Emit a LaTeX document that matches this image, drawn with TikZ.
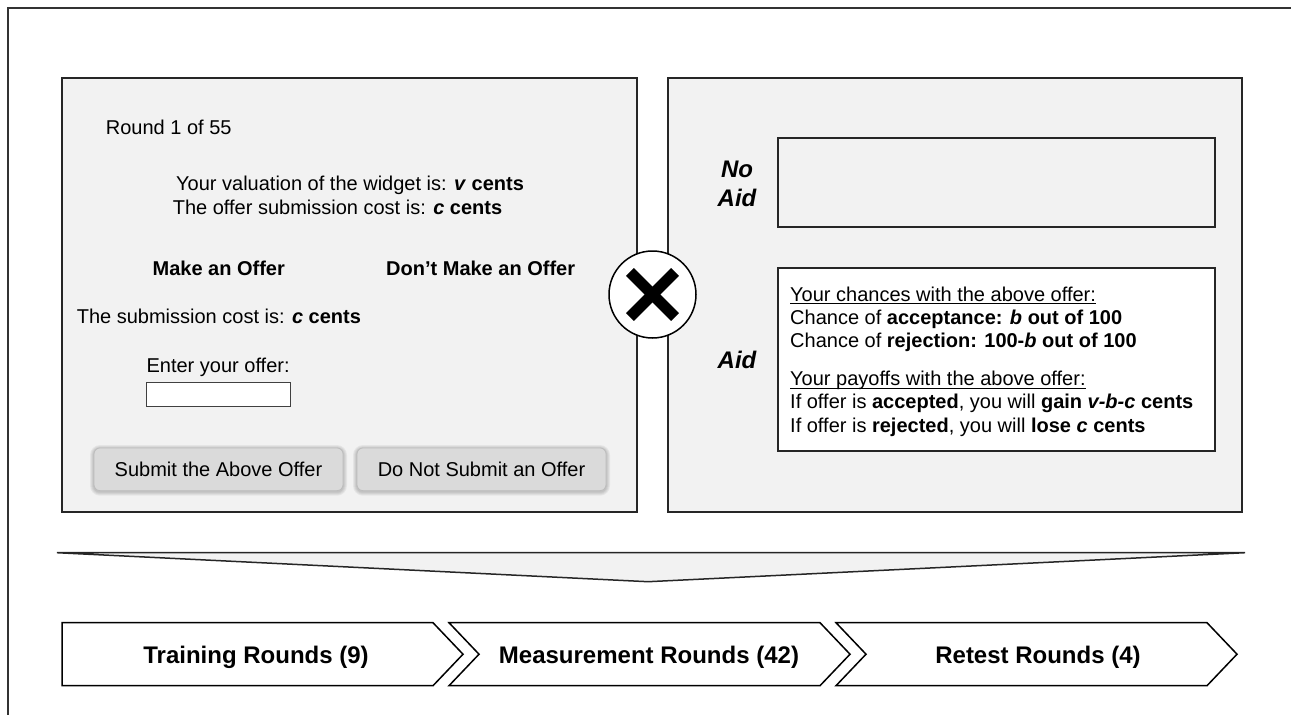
\documentclass[tikz,border=0pt]{standalone}
\usepackage{fontspec}
\setmainfont{Liberation Sans}
\usetikzlibrary{calc}

\definecolor{panelgray}{HTML}{F2F2F2}
\definecolor{edgecol}{HTML}{262626}
\definecolor{btnfill}{HTML}{DADADA}
\definecolor{btnedge}{HTML}{BDBDBD}

% underline at a fixed depth below the baseline
\newcommand\ulinetext[1]{\setbox0\hbox{#1}\rlap{\rule[-3pt]{\wd0}{0.9pt}}\box0}

\tikzset{
  panel/.style={draw=edgecol, line width=1.5pt, fill=panelgray, inner sep=0pt},
  whitebox/.style={draw=edgecol, line width=1.5pt, fill=white, inner sep=0pt},
  txt/.style={inner sep=0pt, anchor=base west, font=\fontsize{20}{23}\selectfont},
  boldtxt/.style={txt, font=\fontsize{20}{23}\selectfont\bfseries},
  lbl/.style={inner sep=0pt, anchor=base, font=\fontsize{24}{28}\selectfont\bfseries\itshape},
  btn/.style={draw=btnedge, fill=btnfill, rounded corners=6pt, line width=0.8pt,
    inner sep=0pt, minimum width=249pt, minimum height=42.7pt,
    font=\fontsize{20}{23}\selectfont},
  btnshadow/.style={fill=black, opacity=0.05},
  chevron/.style={draw=black, fill=white, line width=1.5pt, line join=miter},
  stagetxt/.style={inner sep=0pt, anchor=base, font=\fontsize{24}{28}\selectfont\bfseries},
}

\begin{document}
\begin{tikzpicture}[x=1pt, y=-1pt]
\useasboundingbox (0,0) rectangle (1291,715);

% outer frame
\draw[black!80, line width=1.6pt] (1291,8) -- (8,8) -- (8,715);

% ---- left panel: the offer screen ----
\node[panel, minimum width=575pt, minimum height=434pt] (left) at (349.5,295) {};

\node[txt] (round) at (105.7,134) {Round 1 of 55};
\node[txt] (val) at (176,190) {Your valuation of the widget is: \textbf{\textit{v} cents}};
\node[txt] (cost) at (172.6,214) {The offer submission cost is: \textbf{\textit{c} cents}};
\node[boldtxt] (make) at (152.4,275) {Make an Offer};
\node[boldtxt] (dont) at (386,275) {Don’t Make an Offer};
\node[txt] (subcost) at (76.6,323) {The submission cost is: \textbf{\textit{c} cents}};
\node[txt] (enter) at (146.4,372) {Enter your offer:};
\node[draw=black!75, fill=white, line width=1pt, inner sep=0pt,
      minimum width=144pt, minimum height=24pt] (input) at (218.4,394.7) {};

% soft shadows under the buttons
\foreach \cx in {218.5,481.5}{
  \foreach \i in {1,2,3,4}{
    \fill[btnshadow, rounded corners=6pt+\i pt]
      (\cx-124.5-\i, 448+1-\i) rectangle (\cx+124.5+\i, 490.7+1+\i);
  }
}
\node[btn] (submit) at (218.5,469.3) {Submit the Above Offer};
\node[btn] (nosubmit) at (481.5,469.3) {Do Not Submit an Offer};

% ---- right panel: decision aid ----
\node[panel, minimum width=574pt, minimum height=434pt] (right) at (955,295) {};
\node[panel, minimum width=437pt, minimum height=89pt] (noaidbox) at (996.5,182.5) {};
\node[whitebox, minimum width=437pt, minimum height=183pt] (aidbox) at (996.5,359.5) {};

\node[lbl] (no) at (737,177.5) {No};
\node[lbl] (noaid) at (737,206.5) {Aid};
\node[lbl] (aid) at (737,368.5) {Aid};

\node[txt] (a1) at (790,301) {\ulinetext{Your chances with the above offer:}};
\node[txt] (a2) at (790,324.3) {Chance of \textbf{acceptance: \textit{b} out of 100}};
\node[txt] (a3) at (790,347.7) {Chance of \textbf{rejection: 100-\textit{b} out of 100}};
\node[txt] (a4) at (790,385.5) {\ulinetext{Your payoffs with the above offer:}};
\node[txt] (a5) at (790,408.8) {If offer is \textbf{accepted}, you will \textbf{gain \textit{v-b-c} cents}};
\node[txt] (a6) at (790,432.1) {If offer is \textbf{rejected}, you will \textbf{lose \textit{c} cents}};

% ---- crossing of the two factors ----
\node[circle, draw=black, fill=white, line width=1.5pt, minimum size=87pt, inner sep=0pt]
  (cross) at (652.5,294.5) {};
\draw[line width=11pt] ([shift={(-22.6,-22.6)}]cross.center) -- ([shift={(22.6,22.6)}]cross.center);
\draw[line width=11pt] ([shift={(-22.6,22.6)}]cross.center) -- ([shift={(22.6,-22.6)}]cross.center);

% ---- funnel ----
\draw[panel, line join=miter] (57,552.7) -- (1245,552.7) -- (648,581.7) -- cycle;

% ---- stages ----
\draw[chevron] (62,622.7) -- (433,622.7) -- (463,654.2) -- (433,685.7) -- (62,685.7) -- cycle;
\draw[chevron] (449,622.7) -- (820,622.7) -- (850,654.2) -- (820,685.7) -- (449,685.7) -- (479,654.2) -- cycle;
\draw[chevron] (836,622.7) -- (1207,622.7) -- (1237,654.2) -- (1207,685.7) -- (836,685.7) -- (866,654.2) -- cycle;

\node[stagetxt] (train) at (256,663.6) {Training Rounds (9)};
\node[stagetxt] (measure) at (649,663.6) {Measurement Rounds (42)};
\node[stagetxt] (retest) at (1038,663.6) {Retest Rounds (4)};
\end{tikzpicture}
\end{document}
